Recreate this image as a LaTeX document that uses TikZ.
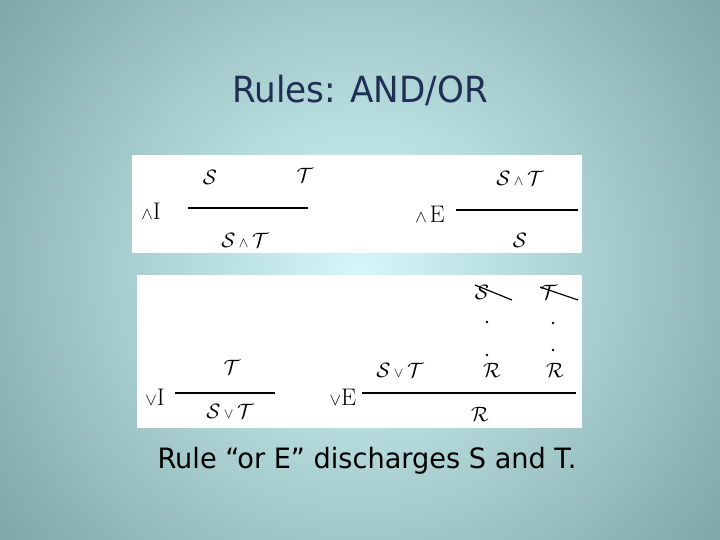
\documentclass[tikz,border=0pt]{standalone}
\usepackage{amsmath}
\usepackage{fontspec}
\setmainfont{DejaVu Sans}
\newfontfamily\lmr{Latin Modern Roman}
\begin{document}
\begin{tikzpicture}[x=1pt,y=-1pt,
  lbl/.style={inner sep=0pt,font=\fontsize{21}{21}\selectfont},
  rulename/.style={inner sep=0pt,font=\fontsize{24}{24}\selectfont\lmr},
  bar/.style={line width=1.6pt},
  box/.style={fill=white,draw=none}]
\definecolor{bgin}{HTML}{D4F8FA}
\definecolor{bgout}{HTML}{7AA2A3}
\definecolor{titlec}{HTML}{1F2F55}
\useasboundingbox (0,0) rectangle (720,540);
\shade[inner color=bgin,outer color=bgout] (-120,-200) rectangle (840,740);
\node[font=\fontsize{36}{36}\selectfont,text=titlec,xscale=0.95] (title) at (360,90) {Rules: AND/OR};
\fill[box] (132,155) rectangle (582,253);
\fill[box] (137,275) rectangle (582,428);
% and I
\node[rulename] (aI) at (151,211) {$\scriptstyle\wedge$I};
\draw[bar] (188,208) -- (308,208);
\node[lbl] (aIs) at (210,177) {$\mathcal{S}$};
\node[lbl] (aIt) at (305,175) {$\mathcal{T}$};
\node[lbl] (aIc) at (245,240) {$\mathcal{S}\,{\scriptstyle\wedge}\,\mathcal{T}$};
% and E
\node[rulename] (aE) at (430,214) {$\scriptstyle\wedge\,$E};
\draw[bar] (456,210) -- (578,210);
\node[lbl] (aEp) at (520,178) {$\mathcal{S}\,{\scriptstyle\wedge}\,\mathcal{T}$};
\node[lbl] (aEc) at (520,240) {$\mathcal{S}$};
% or I
\node[rulename] (oI) at (155,397) {$\scriptstyle\vee$I};
\draw[bar] (175,393) -- (275,393);
\node[lbl] (oIp) at (232,367) {$\mathcal{T}$};
\node[lbl] (oIc) at (230,411) {$\mathcal{S}\,{\scriptstyle\vee}\,\mathcal{T}$};
% or E
\node[rulename] (oE) at (343,397) {$\scriptstyle\vee$E};
\draw[bar] (362,393) -- (576,393);
\node[lbl] (oEp) at (400,370) {$\mathcal{S}\,{\scriptstyle\vee}\,\mathcal{T}$};
\node[lbl] (r1) at (492,370) {$\mathcal{R}$};
\node[lbl] (r2) at (555,370) {$\mathcal{R}$};
\node[lbl] (rc) at (480,414) {$\mathcal{R}$};
\node[lbl] (s) at (482,292) {$\mathcal{S}$};
\node[lbl] (t) at (549,292) {$\mathcal{T}$};
\draw[line width=1.2pt] (475,285) -- (512,300);
\draw[line width=1.2pt] (540,287) -- (578,300);
\foreach \p in {(487,322),(487,355),(553,323),(553,350)} \fill \p circle (1.3);
\node[font=\fontsize{28}{28}\selectfont,xscale=0.97] (cap) at (367,461) {Rule “or E” discharges S and T.};
\end{tikzpicture}
\end{document}
